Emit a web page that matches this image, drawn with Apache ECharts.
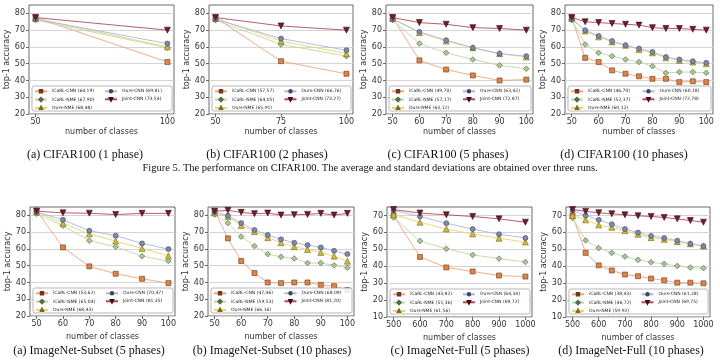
<!DOCTYPE html>
<html><head><meta charset="utf-8">
<script src="https://cdn.jsdelivr.net/npm/echarts@6/dist/echarts.min.js"></script>
<style>html,body{margin:0;padding:0;background:#fff}#c{width:720px;height:362px}</style>
</head><body><div id="c"></div>
<script>
// ---------- DATA ----------
const methodNames = ['iCaRL-CNN', 'iCaRL-NME', 'Ours-NME', 'Ours-CNN', 'Joint-CNN'];

// CIFAR100 (1 phase)
const c1_x = [50, 100];
const c1_icarlCnn = [77.5, 51];
const c1_icarlNme = [76, 59.5];
const c1_oursNme = [77, 60];
const c1_oursCnn = [76.5, 62];
const c1_jointCnn = [77.5, 70];
const c1_scores = ['(64,19)', '(67,90)', '(68,48)', '(69,81)', '(73,54)'];
const c1_ticks = [50, 100];

// CIFAR100 (2 phases)
const c2_x = [50, 75, 100];
const c2_icarlCnn = [77.5, 51.5, 44];
const c2_icarlNme = [76, 61.5, 54.5];
const c2_oursNme = [77, 63.5, 56];
const c2_oursCnn = [76.5, 65, 58];
const c2_jointCnn = [77.5, 72.5, 70];
const c2_scores = ['(57,57)', '(64,05)', '(65,91)', '(66,76)', '(73,27)'];
const c2_ticks = [50, 75, 100];

// CIFAR100 (5 phases)
const c5_x = [50, 60, 70, 80, 90, 100];
const c5_icarlCnn = [77.5, 52, 46.5, 43, 40, 40.5];
const c5_icarlNme = [76, 62, 56.5, 52.5, 49, 47];
const c5_oursNme = [77, 68.5, 63.5, 59.5, 56, 54];
const c5_oursCnn = [76.5, 69, 64, 59.5, 56, 54.5];
const c5_jointCnn = [77.5, 74.5, 73.5, 71.5, 71, 70];
const c5_scores = ['(49,70)', '(57,17)', '(63,12)', '(63,42)', '(72,87)'];
const c5_ticks = [50, 60, 70, 80, 90, 100];

// CIFAR100 (10 phases)
const c10_x = [50, 55, 60, 65, 70, 75, 80, 85, 90, 95, 100];
const c10_icarlCnn = [77.5, 53.5, 51, 46, 44, 42.5, 41, 41, 39, 39.5, 39];
const c10_icarlNme = [76, 61.5, 56.5, 54.5, 52.5, 51, 48.5, 44.5, 45, 45, 44.5];
const c10_oursNme = [77, 69.5, 66, 63, 61, 58.5, 56.5, 53.5, 52, 51, 50];
const c10_oursCnn = [76.5, 70, 66.5, 63.5, 61, 59, 57, 54, 52.5, 51.5, 50.5];
const c10_jointCnn = [77.5, 75, 74.5, 74, 73.5, 73, 71.5, 71, 71, 70.5, 70];
const c10_scores = ['(46,70)', '(52,37)', '(60,12)', '(60,18)', '(72,78)'];
const c10_ticks = [50, 60, 70, 80, 90, 100];

// ImageNet-Subset (5 phases)
const s5_x = [50, 60, 70, 80, 90, 100];
const s5_icarlCnn = [82.8, 60.9, 49.6, 45.2, 42.2, 39.6];
const s5_icarlNme = [81, 73.8, 64.9, 61.3, 55.7, 52.8];
const s5_oursNme = [82, 75.4, 68.9, 64.7, 60.3, 55.9];
const s5_oursCnn = [82, 77.4, 70.9, 67.9, 63.3, 59.9];
const s5_jointCnn = [82.5, 81.5, 81.3, 80.5, 81.2, 81.2];
const s5_scores = ['(53,62)', '(65,04)', '(68,43)', '(70,47)', '(81,35)'];
const s5_ticks = [50, 60, 70, 80, 90, 100];

// ImageNet-Subset (10 phases)
const s10_x = [50, 55, 60, 65, 70, 75, 80, 85, 90, 95, 100];
const s10_icarlCnn = [82.5, 66.3, 52.8, 45.6, 40, 39.6, 40, 40, 38.6, 37.8, 35.5];
const s10_icarlNme = [80.5, 75.4, 67.3, 61.7, 56.9, 55.3, 54.3, 51.6, 51.6, 50.2, 48.8];
const s10_oursNme = [81.5, 79.4, 74, 70.3, 66.7, 63.7, 61.3, 59.7, 57.9, 55.7, 52.7];
const s10_oursCnn = [82, 79.8, 75.4, 71.3, 68.3, 65.7, 63.7, 62.3, 60.9, 58.9, 56.9];
const s10_jointCnn = [82.5, 83, 81.8, 81, 81.4, 80.2, 80.4, 80.6, 81.2, 80.2, 81.2];
const s10_scores = ['(47,46)', '(59,53)', '(66,16)', '(68,09)', '(81,20)'];
const s10_ticks = [50, 60, 70, 80, 90, 100];

// ImageNet-Full (5 phases)
const f5_x = [500, 600, 700, 800, 900, 1000];
const f5_icarlCnn = [70, 45.5, 39.3, 36.9, 34.5, 33.9];
const f5_icarlNme = [68.8, 54.9, 50.3, 46.7, 44.5, 42.5];
const f5_oursNme = [70.5, 66, 62, 59.1, 56.5, 54.3];
const f5_oursCnn = [73, 69.4, 65.4, 62, 58.9, 56.7];
const f5_jointCnn = [73.5, 71.4, 70.4, 69.4, 68, 66];
const f5_scores = ['(43,82)', '(51,36)', '(61,56)', '(64,34)', '(69,72)'];
const f5_ticks = [500, 600, 700, 800, 900, 1000];

// ImageNet-Full (10 phases)
const f10_x = [500, 550, 600, 650, 700, 750, 800, 850, 900, 950, 1000];
const f10_icarlCnn = [70, 47.9, 40.5, 37.5, 35.1, 34.1, 32.7, 31.7, 30.3, 30.3, 29.9];
const f10_icarlNme = [68.5, 55.3, 50.7, 47.9, 45.7, 43.8, 42.4, 41.4, 40.2, 39.2, 38.8];
const f10_oursNme = [70, 67.4, 64.4, 63, 61, 58.9, 56.9, 55.9, 54.5, 53.3, 51.9];
const f10_oursCnn = [73, 70, 67.4, 64.8, 62, 59.9, 57.9, 56.7, 55.1, 53.3, 51.9];
const f10_jointCnn = [73.5, 72.4, 71.6, 71, 70.4, 69.8, 69.4, 68.8, 68, 67, 66];
const f10_scores = ['(38,43)', '(46,72)', '(59,92)', '(61,28)', '(69,75)'];
const f10_ticks = [500, 600, 700, 800, 900, 1000];

const yTicksHigh = [20, 30, 40, 50, 60, 70, 80];
const yTicksLow = [10, 20, 30, 40, 50, 60, 70];

const subCaptions = ['(a) CIFAR100 (1 phase)', '(b) CIFAR100 (2 phases)', '(c) CIFAR100 (5 phases)', '(d) CIFAR100 (10 phases)',
  '(a) ImageNet-Subset (5 phases)', '(b) ImageNet-Subset (10 phases)', '(c) ImageNet-Full (5 phases)', '(d) ImageNet-Full (10 phases)'];
const figCaption = 'Figure 5. The performance on CIFAR100. The average and standard deviations are obtained over three runs.';

// ---------- LAYOUT / STYLE ----------
const panels = [
  {x: c1_x, ys: [c1_icarlCnn, c1_icarlNme, c1_oursNme, c1_oursCnn, c1_jointCnn], sc: c1_scores, ticks: c1_ticks, yr: [20, 85], yt: yTicksHigh, g: {l: 29, t: 5, w: 145, h: 109}, cap: {x: 85, y: 155}},
  {x: c2_x, ys: [c2_icarlCnn, c2_icarlNme, c2_oursNme, c2_oursCnn, c2_jointCnn], sc: c2_scores, ticks: c2_ticks, yr: [20, 85], yt: yTicksHigh, g: {l: 209, t: 5, w: 144, h: 109}, cap: {x: 267, y: 155}},
  {x: c5_x, ys: [c5_icarlCnn, c5_icarlNme, c5_oursNme, c5_oursCnn, c5_jointCnn], sc: c5_scores, ticks: c5_ticks, yr: [20, 85], yt: yTicksHigh, g: {l: 386, t: 5, w: 147, h: 109}, cap: {x: 448, y: 155}},
  {x: c10_x, ys: [c10_icarlCnn, c10_icarlNme, c10_oursNme, c10_oursCnn, c10_jointCnn], sc: c10_scores, ticks: c10_ticks, yr: [20, 85], yt: yTicksHigh, g: {l: 565, t: 5, w: 148, h: 109}, cap: {x: 624, y: 155}},
  {x: s5_x, ys: [s5_icarlCnn, s5_icarlNme, s5_oursNme, s5_oursCnn, s5_jointCnn], sc: s5_scores, ticks: s5_ticks, yr: [20, 85], yt: yTicksHigh, g: {l: 30, t: 207, w: 145, h: 109}, cap: {x: 89, y: 351}},
  {x: s10_x, ys: [s10_icarlCnn, s10_icarlNme, s10_oursNme, s10_oursCnn, s10_jointCnn], sc: s10_scores, ticks: s10_ticks, yr: [20, 85], yt: yTicksHigh, g: {l: 208, t: 207, w: 146, h: 109}, cap: {x: 272, y: 351}},
  {x: f5_x, ys: [f5_icarlCnn, f5_icarlNme, f5_oursNme, f5_oursCnn, f5_jointCnn], sc: f5_scores, ticks: f5_ticks, yr: [10, 75], yt: yTicksLow, g: {l: 387, t: 207, w: 145, h: 110}, cap: {x: 460, y: 351}},
  {x: f10_x, ys: [f10_icarlCnn, f10_icarlNme, f10_oursNme, f10_oursCnn, f10_jointCnn], sc: f10_scores, ticks: f10_ticks, yr: [10, 75], yt: yTicksLow, g: {l: 566, t: 207, w: 144, h: 110}, cap: {x: 631, y: 351}}
];

const styles = [
  {line: '#f2a37c', face: '#dd8446', edge: '#6e3818', symbol: 'rect', size: 5, rot: 0},
  {line: '#bcd9a4', face: '#a9c78f', edge: '#56684c', symbol: 'rect', size: 4, rot: 45},
  {line: '#ecd36c', face: '#cdbb3e', edge: '#7a6a1c', symbol: 'triangle', size: 6, rot: 0},
  {line: '#a9b6e2', face: '#8089aa', edge: '#3e4558', symbol: 'circle', size: 5, rot: 0},
  {line: '#b04a5c', face: '#6e1c2c', edge: '#3e0e18', symbol: 'triangle', size: 6, rot: 180}
];

const FONT = 'DejaVu Sans';
const grids = [], xAxes = [], yAxes = [], series = [], legends = [], graphics = [];

panels.forEach((p, i) => {
  grids.push({left: p.g.l, top: p.g.t, width: p.g.w, height: p.g.h, show: true, borderColor: '#444', borderWidth: 0.8, backgroundColor: '#fff'});
  const span = p.ticks[p.ticks.length - 1] - p.ticks[0];
  xAxes.push({
    gridIndex: i, type: 'value',
    min: p.ticks[0] - span * 0.05, max: p.ticks[p.ticks.length - 1] + span * 0.05,
    axisLine: {show: false},
    axisTick: {show: true, length: 3, customValues: p.ticks, lineStyle: {color: '#444', width: 0.8}},
    axisLabel: {customValues: p.ticks, formatter: v => String(v), fontSize: 8, color: '#333', margin: 4, fontFamily: FONT},
    splitLine: {show: false},
    name: 'number of classes', nameLocation: 'middle', nameGap: i < 4 ? 14 : 17,
    nameTextStyle: {fontSize: 8, color: '#333', fontFamily: FONT}
  });
  yAxes.push({
    gridIndex: i, type: 'value', min: p.yr[0], max: p.yr[1], interval: 5,
    axisLine: {show: false},
    axisTick: {show: true, length: 3, customValues: p.yt, lineStyle: {color: '#444', width: 0.8}},
    axisLabel: {customValues: p.yt, formatter: v => String(v), fontSize: 8, color: '#333', margin: 4, fontFamily: FONT},
    splitLine: {show: true, lineStyle: {color: '#d4d4d4', width: 1}},
    name: 'top-1 accuracy', nameLocation: 'middle', nameGap: 16, nameRotate: 90,
    nameTextStyle: {fontSize: 8, color: '#333', fontFamily: FONT}
  });
  const names = methodNames.map((n, k) => n + ' ' + p.sc[k]);
  p.ys.forEach((ys, k) => {
    const s = styles[k];
    series.push({
      type: 'line', name: names[k], xAxisIndex: i, yAxisIndex: i,
      data: p.x.map((xv, j) => [xv, ys[j]]),
      symbol: s.symbol, symbolSize: s.size, symbolRotate: s.rot, showSymbol: true,
      lineStyle: {color: s.line, width: 0.9},
      itemStyle: {color: s.face, borderColor: s.edge, borderWidth: 0.6},
      z: 2 + k * 0.01, animation: false, silent: true
    });
  });
  // legend box
  const bx = p.g.l + 3, bw = p.g.w - 5, bh = 25, by = p.g.t + p.g.h - bh - 3;
  graphics.push({type: 'rect', shape: {x: bx, y: by, width: bw, height: bh, r: 2},
    style: {fill: 'rgba(255,255,255,0.85)', stroke: '#9a9a9a', lineWidth: 0.7}, z: 50});
  const lgCommon = {orient: 'vertical', itemWidth: 12, itemHeight: 3, itemGap: 2.4, padding: 0,
    selectedMode: false, z: 60,
    textStyle: {fontSize: 4.5, lineHeight: 5.6, color: '#222', fontFamily: FONT}};
  legends.push(Object.assign({left: bx + 2, top: by + 2.5, data: [names[0], names[1], names[2]]}, lgCommon));
  legends.push(Object.assign({left: bx + 2 + bw * 0.5, top: by + 2.5, data: [names[3], names[4]]}, lgCommon));
  graphics.push({type: 'text', x: p.cap.x, y: p.cap.y, z: 50,
    style: {text: subCaptions[i], font: '12px "Liberation Serif"', fill: '#111', align: 'center', verticalAlign: 'middle', textAlign: 'center', textVerticalAlign: 'middle'}});
});
graphics.push({type: 'text', x: 370, y: 168, z: 50,
  style: {text: figCaption, font: '10.5px "Liberation Serif"', fill: '#111', align: 'center', verticalAlign: 'middle', textAlign: 'center', textVerticalAlign: 'middle'}});

const chart = echarts.init(document.getElementById('c'), null, {renderer: 'canvas', width: 720, height: 362});
chart.setOption({
  animation: false,
  backgroundColor: '#fff',
  grid: grids, xAxis: xAxes, yAxis: yAxes, series: series, legend: legends, graphic: graphics
});
</script>
</body></html>
